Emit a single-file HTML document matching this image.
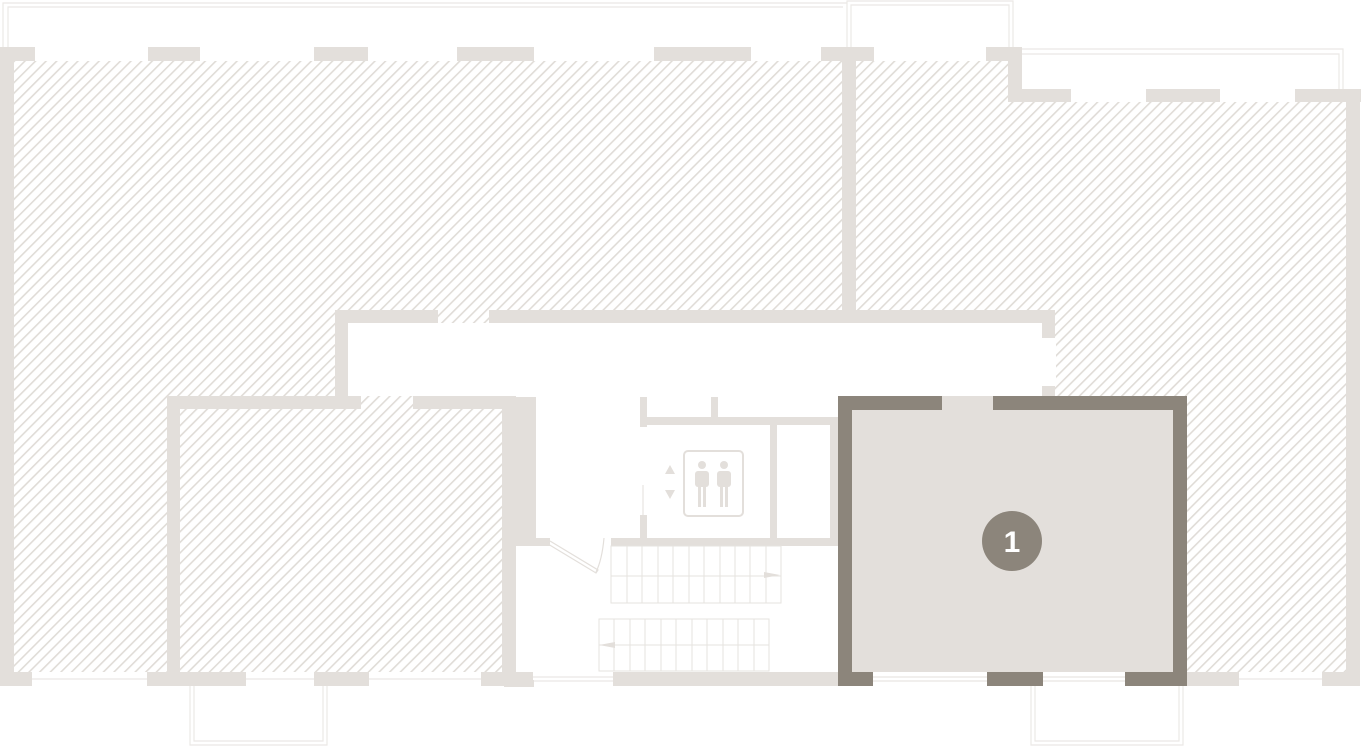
<!DOCTYPE html>
<html><head><meta charset="utf-8"><style>html,body{margin:0;padding:0;background:#fff;}svg{display:block;}</style></head><body>
<svg width="1361" height="747" viewBox="0 0 1361 747" xmlns="http://www.w3.org/2000/svg">
<defs>
<pattern id="h" patternUnits="userSpaceOnUse" width="7.5" height="7.5" patternTransform="rotate(45)">
<rect width="7.5" height="7.5" fill="#fff"/>
<rect x="0" y="0" width="1.6" height="7.5" fill="#e0dcd7"/>
</pattern>
</defs>
<rect x="14" y="61" width="828" height="611" fill="url(#h)"/>
<rect x="856" y="61" width="152" height="611" fill="url(#h)"/>
<rect x="1000" y="102" width="346" height="570" fill="url(#h)"/>
<rect x="348" y="323" width="694" height="73" fill="#fff"/>
<rect x="516" y="396" width="322" height="276" fill="#fff"/>
<rect x="1042" y="338" width="14" height="48" fill="#fff"/>
<g fill="none" stroke="#ebe8e5" stroke-width="1.2">
<polyline points="3,47 3,3 847,3"/>
<polyline points="8,47 8,7 843,7"/>
<polyline points="847,47 847,1 1013,1 1013,47"/>
<polyline points="851,47 851,5 1009,5 1009,47"/>
<polyline points="1022,49 1343,49 1343,89"/>
<polyline points="1022,54 1339,54 1339,89"/>
<polyline points="190,686 190,745 327,745 327,686"/>
<polyline points="194,686 194,741 323,741 323,686"/>
<polyline points="1031,686 1031,745 1183,745 1183,686"/>
<polyline points="1035,686 1035,741 1179,741 1179,686"/>
<line x1="32" y1="679" x2="147" y2="679"/>
<line x1="246" y1="679" x2="314" y2="679"/>
<line x1="369" y1="679" x2="481" y2="679"/>
<line x1="533" y1="677" x2="613" y2="677"/><line x1="533" y1="681" x2="613" y2="681"/>
<line x1="1239" y1="679" x2="1322" y2="679"/>
</g>
<g fill="#e3dfdb">
<rect x="0" y="47" width="14" height="639"/>
<rect x="0" y="47" width="35" height="14"/>
<rect x="148" y="47" width="52" height="14"/>
<rect x="314" y="47" width="54" height="14"/>
<rect x="457" y="47" width="77" height="14"/>
<rect x="654" y="47" width="97" height="14"/>
<rect x="821" y="47" width="53" height="14"/>
<rect x="842" y="47" width="14" height="276"/>
<rect x="986" y="47" width="36" height="14"/>
<rect x="1008" y="47" width="14" height="55"/>
<rect x="1008" y="89" width="63" height="13"/>
<rect x="1146" y="89" width="74" height="13"/>
<rect x="1295" y="89" width="66" height="13"/>
<rect x="1346" y="89" width="14" height="597"/>
<rect x="335" y="310" width="103" height="13"/>
<rect x="489" y="310" width="566" height="13"/>
<rect x="1042" y="310" width="13" height="28"/>
<rect x="1042" y="386" width="13" height="11"/>
<rect x="335" y="310" width="13" height="98"/>
<rect x="167" y="396" width="194" height="13"/>
<rect x="413" y="396" width="103" height="13"/>
<rect x="167" y="396" width="13" height="290"/>
<rect x="502" y="397" width="34" height="148"/>
<rect x="502" y="397" width="14" height="289"/>
<rect x="516" y="538" width="34" height="8"/>
<rect x="0" y="672" width="32" height="14"/>
<rect x="147" y="672" width="99" height="14"/>
<rect x="314" y="672" width="55" height="14"/>
<rect x="481" y="672" width="52" height="14"/>
<rect x="504" y="680" width="30" height="7"/>
<rect x="613" y="672" width="225" height="14"/>
<rect x="1187" y="672" width="52" height="14"/>
<rect x="1322" y="672" width="38" height="14"/>
<rect x="640" y="397" width="7" height="30"/>
<rect x="640" y="515" width="7" height="25"/>
<rect x="640" y="417" width="198" height="8"/>
<rect x="711" y="397" width="7" height="20"/>
<rect x="770" y="417" width="7" height="123"/>
<rect x="830" y="417" width="8" height="123"/>
<rect x="611" y="538" width="227" height="8"/>
</g>
<line x1="643" y1="485" x2="643" y2="515" stroke="#e3dfdb" stroke-width="1"/>
<g stroke="#e3dfdb" fill="none" stroke-width="1.2">
<polyline points="550,541 598,570 596,573 548,544"/>
<path d="M604,538 Q602,560 596,572"/>
</g>
<rect x="684" y="451" width="59" height="65" rx="4" fill="none" stroke="#e3dfdb" stroke-width="2"/>
<g fill="#e3dfdb">
<circle cx="702" cy="465" r="4"/><rect x="695" y="471" width="14" height="16" rx="3"/><rect x="698" y="485" width="3" height="22"/><rect x="703" y="485" width="3" height="22"/>
<circle cx="724" cy="465" r="4"/><rect x="717" y="471" width="14" height="16" rx="3"/><rect x="720" y="485" width="3" height="22"/><rect x="725" y="485" width="3" height="22"/>
<polygon points="670,465 675,474 665,474"/>
<polygon points="665,490 675,490 670,499"/>
</g>
<g stroke="#e6e3df" stroke-width="1" fill="none">
<rect x="611" y="546" width="170" height="57"/>
<line x1="611" y1="576" x2="781" y2="576"/>
<rect x="599" y="619" width="170" height="52"/>
<line x1="599" y1="645" x2="769" y2="645"/>
</g>
<g stroke="#e6e3df" stroke-width="1">
<line x1="627" y1="546" x2="627" y2="603"/><line x1="642" y1="546" x2="642" y2="603"/><line x1="658" y1="546" x2="658" y2="603"/><line x1="673" y1="546" x2="673" y2="603"/><line x1="689" y1="546" x2="689" y2="603"/><line x1="704" y1="546" x2="704" y2="603"/><line x1="720" y1="546" x2="720" y2="603"/><line x1="735" y1="546" x2="735" y2="603"/><line x1="750" y1="546" x2="750" y2="603"/><line x1="766" y1="546" x2="766" y2="603"/>
<line x1="614" y1="619" x2="614" y2="671"/><line x1="630" y1="619" x2="630" y2="671"/><line x1="645" y1="619" x2="645" y2="671"/><line x1="661" y1="619" x2="661" y2="671"/><line x1="676" y1="619" x2="676" y2="671"/><line x1="692" y1="619" x2="692" y2="671"/><line x1="707" y1="619" x2="707" y2="671"/><line x1="723" y1="619" x2="723" y2="671"/><line x1="738" y1="619" x2="738" y2="671"/><line x1="754" y1="619" x2="754" y2="671"/>
</g>
<polygon points="764,572 780,575 764,578" fill="#e3dfdb"/>
<polygon points="615,642 599,645 615,648" fill="#e3dfdb"/>
<rect x="838" y="396" width="349" height="290" fill="#e3dfdb"/>
<g fill="#8c857b">
<rect x="838" y="396" width="104" height="14"/>
<rect x="993" y="396" width="194" height="14"/>
<rect x="838" y="396" width="14" height="290"/>
<rect x="1173" y="396" width="14" height="290"/>
<rect x="838" y="672" width="35" height="14"/>
<rect x="987" y="672" width="56" height="14"/>
<rect x="1125" y="672" width="62" height="14"/>
</g>
<rect x="873" y="672" width="114" height="14" fill="#fff"/>
<rect x="1043" y="672" width="82" height="14" fill="#fff"/>
<g fill="none" stroke="#e3dfdb" stroke-width="1"><line x1="873" y1="677" x2="987" y2="677"/><line x1="873" y1="681" x2="987" y2="681"/><line x1="1043" y1="677" x2="1125" y2="677"/><line x1="1043" y1="681" x2="1125" y2="681"/></g>
<circle cx="1012" cy="541" r="30" fill="#8c857b"/>
<text x="1012" y="552" text-anchor="middle" font-family="Liberation Sans, sans-serif" font-weight="bold" font-size="30" fill="#fff">1</text>
</svg>
</body></html>
